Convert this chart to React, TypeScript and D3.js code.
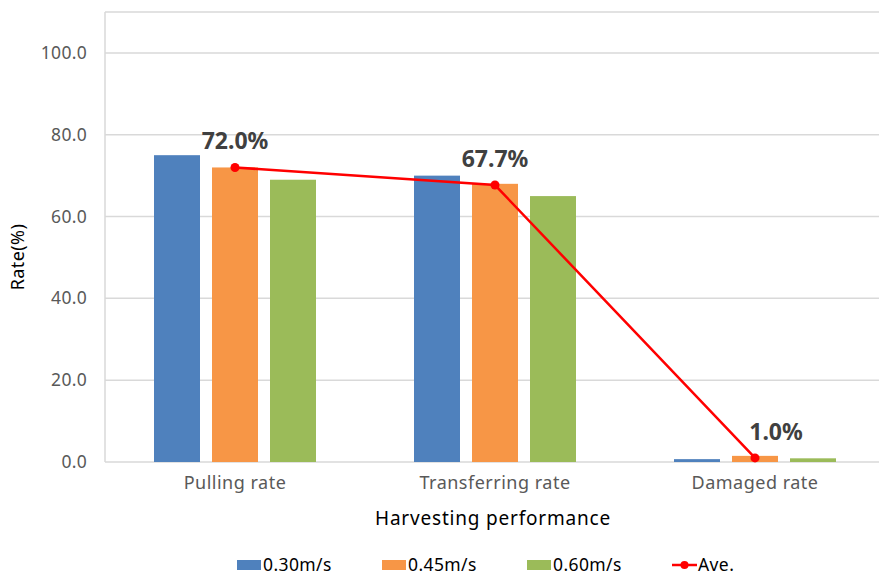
import React from "react";
import * as d3 from "d3";

// Harvesting performance by travel speed
const categories = ["Pulling rate", "Transferring rate", "Damaged rate"];
const seriesNames = ["0.30m/s", "0.45m/s", "0.60m/s"];
const speed030 = [75.0, 70.0, 0.7];
const speed045 = [72.0, 68.0, 1.5];
const speed060 = [69.0, 65.0, 0.9];
const averages = [72.0, 67.7, 1.0];
const yTicks = [0, 20, 40, 60, 80, 100];

const seriesValues = [speed030, speed045, speed060];
const colors = ["#4F81BD", "#F79646", "#9BBB59"];
const avgColor = "#FF0000";
const FONT = "'Noto Sans', 'Open Sans', sans-serif";

const W = 879;
const H = 576;
const plotLeft = 105;
const plotRight = 885;
const plotTop = 12;
const plotBottom = 462;

// extra horizontal nudge for individual average labels
const labelDx = [0, 0, 21];

export default function App() {
  const y = d3.scaleLinear().domain([0, 110]).range([plotBottom, plotTop]);
  const x0 = d3.scaleBand<string>().domain(categories).range([plotLeft, plotRight]);
  const half = 87;
  const x1 = d3
    .scaleBand<string>()
    .domain(seriesNames)
    .range([-half, half])
    .paddingInner(0.207)
    .paddingOuter(0.1035);

  const cx = (c: string) => (x0(c) ?? 0) + x0.bandwidth() / 2;

  const line = d3
    .line<number>()
    .x((_, i) => cx(categories[i]))
    .y((v) => y(v));

  const legendItems = [
    { x: 237, kind: "bar", i: 0 },
    { x: 382, kind: "bar", i: 1 },
    { x: 527, kind: "bar", i: 2 },
    { x: 672, kind: "line", i: 3 },
  ];

  return (
    <svg
      width={W}
      height={H}
      style={{ position: "fixed", left: 0, top: 0, background: "#fff" }}
      fontFamily={FONT}
    >
      <rect x={0} y={0} width={W} height={H} fill="#fff" />

      {/* gridlines */}
      {[...yTicks, 110].map((t) => (
        <line
          key={"g" + t}
          x1={plotLeft}
          x2={plotRight}
          y1={y(t)}
          y2={y(t)}
          stroke="#D9D9D9"
          strokeWidth={1.5}
        />
      ))}
      <line x1={plotLeft} x2={plotLeft} y1={plotTop} y2={plotBottom} stroke="#D9D9D9" strokeWidth={1.5} />

      {/* y tick labels */}
      {yTicks.map((t) => (
        <text
          key={"t" + t}
          x={87}
          y={y(t)}
          dy="0.35em"
          textAnchor="end"
          fontSize={17.5}
          fill="#595959"
          letterSpacing={0.3}
        >
          {t.toFixed(1)}
        </text>
      ))}

      {/* bars */}
      {categories.map((c, ci) =>
        seriesNames.map((s, si) => {
          const v = seriesValues[si][ci];
          return (
            <rect
              key={c + s}
              x={cx(c) + (x1(s) ?? 0)}
              y={y(v)}
              width={x1.bandwidth()}
              height={plotBottom - y(v)}
              fill={colors[si]}
            />
          );
        })
      )}

      {/* average line */}
      <path d={line(averages) ?? ""} fill="none" stroke={avgColor} strokeWidth={2.5} />
      {averages.map((v, i) => (
        <circle key={"m" + i} cx={cx(categories[i])} cy={y(v)} r={4.5} fill={avgColor} />
      ))}
      {averages.map((v, i) => (
        <text
          key={"l" + i}
          x={cx(categories[i]) + labelDx[i]}
          y={y(v) - 18}
          textAnchor="middle"
          fontSize={23}
          fontWeight="bold"
          fill="#404040"
        >
          {v.toFixed(1) + "%"}
        </text>
      ))}

      {/* category labels */}
      {categories.map((c) => (
        <text
          key={"c" + c}
          x={cx(c)}
          y={489}
          textAnchor="middle"
          fontSize={18}
          fill="#595959"
          letterSpacing={0.5}
        >
          {c}
        </text>
      ))}

      {/* axis titles */}
      <text
        x={(plotLeft + plotRight) / 2 - 2}
        y={525}
        textAnchor="middle"
        fontSize={19}
        fill="#000"
        letterSpacing={0.8}
      >
        Harvesting performance
      </text>
      <text
        transform={`translate(24,257) rotate(-90)`}
        textAnchor="middle"
        fontSize={18}
        fill="#000"
        letterSpacing={0.4}
      >
        Rate(%)
      </text>

      {/* legend */}
      {legendItems.map((item) => (
        <g key={"lg" + item.i}>
          {item.kind === "bar" ? (
            <rect x={item.x} y={560} width={24} height={10} fill={colors[item.i]} />
          ) : (
            <g>
              <line x1={item.x} x2={item.x + 25} y1={565} y2={565} stroke={avgColor} strokeWidth={2.5} />
              <circle cx={item.x + 12.5} cy={565} r={4} fill={avgColor} />
            </g>
          )}
          <text x={item.x + 26} y={571} fontSize={17.5} fill="#000" letterSpacing={0.4}>
            {item.kind === "bar" ? seriesNames[item.i] : "Ave."}
          </text>
        </g>
      ))}
    </svg>
  );
}
